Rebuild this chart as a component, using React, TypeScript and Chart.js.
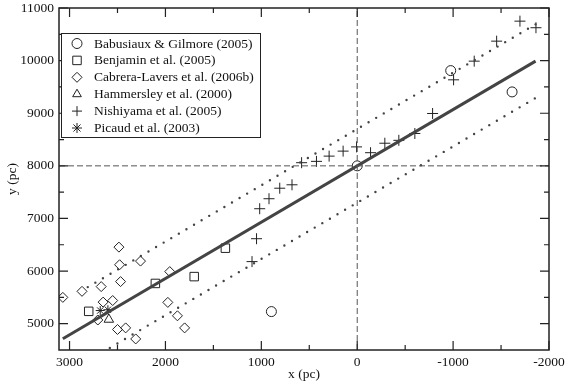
import React, { useEffect, useRef } from 'react';
import { Chart, registerables } from 'chart.js';

Chart.register(...registerables);

// ---- data ----
const babusiauxX = [-975, -1615, 0, 895];
const babusiauxY = [9810, 9405, 8000, 5230];

const benjaminX = [2800, 2105, 1700, 1375];
const benjaminY = [5235, 5765, 5895, 6435];

const cabreraX = [3070, 2870, 2670, 2485, 2478, 2468, 2260, 1955, 2650, 2550, 2705, 2500, 2415, 2310, 1975, 1875, 1800];
const cabreraY = [5500, 5615, 5705, 6455, 6120, 5800, 6190, 5990, 5410, 5440, 5070, 4890, 4920, 4710, 5405, 5150, 4920];

const hammersleyX = [2590];
const hammersleyY = [5080];

const nishiyamaX = [1097, 1050, 1017, 920, 808, 680, 580, 425, 293, 147, 7, -139, -288, -434, -601, -786, -1005, -1220, -1454, -1697, -1864];
const nishiyamaY = [6180, 6615, 7185, 7375, 7575, 7640, 8060, 8085, 8185, 8280, 8360, 8250, 8430, 8485, 8615, 8995, 9635, 9990, 10370, 10750, 10625];

const picaudX = [2680, 2600];
const picaudY = [5250, 5265];

const fitX = [3070, -1860];
const fitY = [4715, 9990];
const upperX = [2810, -1860];
const upperY = [5695, 10690];
const lowerX = [2580, -1860];
const lowerY = [4540, 9290];

const refVX = [0, 0];
const refVY = [4500, 11000];
const refHX = [3110, -2000];
const refHY = [8000, 8000];

const xMajorTicks = [3000, 2000, 1000, 0, -1000, -2000];
const xMinorTicks = [2500, 1500, 500, -500, -1500];
const yMajorTicks = [5000, 6000, 7000, 8000, 9000, 10000, 11000];
const yMinorTicks = [5500, 6500, 7500, 8500, 9500, 10500];

const legendLabels = [
  'Babusiaux & Gilmore (2005)',
  'Benjamin et al. (2005)',
  'Cabrera-Lavers et al. (2006b)',
  'Hammersley et al. (2000)',
  'Nishiyama et al. (2005)',
  'Picaud et al. (2003)',
];
const legendStyles = ['circle', 'rect', 'rectRot', 'triangle', 'cross', 'star'];

const FONT = '"Liberation Serif", "Times New Roman", serif';
const INK = '#222';

function pts(xs: number[], ys: number[]) {
  return xs.map((x, i) => ({ x, y: ys[i] }));
}

function drawSymbol(ctx: CanvasRenderingContext2D, style: string, x: number, y: number, r: number) {
  ctx.beginPath();
  if (style === 'circle') {
    ctx.arc(x, y, r, 0, Math.PI * 2);
  } else if (style === 'rect') {
    const s = r * Math.SQRT1_2 * 1.2;
    ctx.rect(x - s, y - s, 2 * s, 2 * s);
  } else if (style === 'rectRot') {
    ctx.moveTo(x - r, y);
    ctx.lineTo(x, y - r);
    ctx.lineTo(x + r, y);
    ctx.lineTo(x, y + r);
    ctx.closePath();
  } else if (style === 'triangle') {
    ctx.moveTo(x, y - r);
    ctx.lineTo(x + r * Math.sin(Math.PI * 2 / 3), y - r * Math.cos(Math.PI * 2 / 3));
    ctx.lineTo(x + r * Math.sin(Math.PI * 4 / 3), y - r * Math.cos(Math.PI * 4 / 3));
    ctx.closePath();
  } else if (style === 'cross') {
    ctx.moveTo(x - r, y); ctx.lineTo(x + r, y);
    ctx.moveTo(x, y - r); ctx.lineTo(x, y + r);
  } else if (style === 'star') {
    for (let k = 0; k < 4; k++) {
      const a = (k * Math.PI) / 4;
      ctx.moveTo(x - Math.cos(a) * r, y - Math.sin(a) * r);
      ctx.lineTo(x + Math.cos(a) * r, y + Math.sin(a) * r);
    }
  }
  ctx.stroke();
}

const framePlugin = {
  id: 'frameTicks',
  afterDatasetsDraw(chart: any) {
    const { ctx, chartArea: a, scales } = chart;
    const xs = scales.x;
    const ys = scales.y;
    ctx.save();
    ctx.strokeStyle = INK;
    ctx.lineWidth = 1.5;
    ctx.strokeRect(a.left, a.top, a.right - a.left, a.bottom - a.top);
    ctx.lineWidth = 1.2;
    const tick = (vals: number[], len: number) => {
      vals.forEach((v) => {
        const px = xs.getPixelForValue(v);
        ctx.beginPath();
        ctx.moveTo(px, a.bottom); ctx.lineTo(px, a.bottom - len);
        ctx.moveTo(px, a.top); ctx.lineTo(px, a.top + len);
        ctx.stroke();
      });
    };
    const tickY = (vals: number[], len: number) => {
      vals.forEach((v) => {
        const py = ys.getPixelForValue(v);
        ctx.beginPath();
        ctx.moveTo(a.left, py); ctx.lineTo(a.left + len, py);
        ctx.moveTo(a.right, py); ctx.lineTo(a.right - len, py);
        ctx.stroke();
      });
    };
    tick(xMajorTicks, 9);
    tick(xMinorTicks, 5);
    tickY(yMajorTicks, 9);
    tickY(yMinorTicks, 5);

    // legend
    const bx = 61.5, by = 33.5, bw = 199, bh = 104;
    ctx.fillStyle = '#fff';
    ctx.fillRect(bx, by, bw, bh);
    ctx.lineWidth = 1;
    ctx.strokeRect(bx, by, bw, bh);
    ctx.font = `13.5px ${FONT}`;
    ctx.textBaseline = 'middle';
    ctx.textAlign = 'left';
    legendLabels.forEach((lab, i) => {
      const y = 43.5 + i * 16.9;
      ctx.strokeStyle = INK;
      ctx.lineWidth = 1;
      drawSymbol(ctx, legendStyles[i], 77, y, 5);
      ctx.fillStyle = '#111';
      ctx.fillText(lab, 94, y + 0.5);
    });
    ctx.restore();
  },
};

export default function App() {
  const ref = useRef<HTMLCanvasElement>(null);
  useEffect(() => {
    if (!ref.current) return;
    const marker = (label: string, xs: number[], ys: number[], style: string, r: number) => ({
      label,
      data: pts(xs, ys),
      pointStyle: style,
      pointRadius: r,
      pointBorderColor: INK,
      pointBackgroundColor: 'rgba(0,0,0,0)',
      pointBorderWidth: 1,
      showLine: false,
    });
    const line = (label: string, xs: number[], ys: number[], extra: any) => ({
      label,
      data: pts(xs, ys),
      showLine: true,
      pointRadius: 0,
      fill: false,
      ...extra,
    });
    const chart = new Chart(ref.current, {
      type: 'scatter',
      data: {
        datasets: [
          line('refV', refVX, refVY, { borderColor: '#555', borderWidth: 1, borderDash: [6, 3] }),
          line('refH', refHX, refHY, { borderColor: '#555', borderWidth: 1, borderDash: [6, 3] }),
          line('fit', fitX, fitY, { borderColor: '#444', borderWidth: 3 }),
          line('upper', upperX, upperY, { borderColor: '#444', borderWidth: 2.4, borderDash: [0, 8.8], borderCapStyle: 'round' }),
          line('lower', lowerX, lowerY, { borderColor: '#444', borderWidth: 2.4, borderDash: [0, 8.8], borderCapStyle: 'round' }),
          marker(legendLabels[0], babusiauxX, babusiauxY, 'circle', 5),
          marker(legendLabels[1], benjaminX, benjaminY, 'rect', 6),
          marker(legendLabels[2], cabreraX, cabreraY, 'rectRot', 5),
          marker(legendLabels[3], hammersleyX, hammersleyY, 'triangle', 5.5),
          marker(legendLabels[4], nishiyamaX, nishiyamaY, 'cross', 5.5),
          marker(legendLabels[5], picaudX, picaudY, 'star', 4.5),
        ] as any,
      },
      options: {
        animation: false,
        responsive: false,
        devicePixelRatio: 1,
        layout: { padding: { top: 0, right: 21, left: 0, bottom: 0 } },
        plugins: { legend: { display: false }, tooltip: { enabled: false } },
        scales: {
          x: {
            type: 'linear',
            reverse: true,
            min: -2000,
            max: 3110,
            afterBuildTicks: (s: any) => { s.ticks = xMajorTicks.map((v) => ({ value: v })); },
            afterFit: (s: any) => { s.height = 38; s.paddingLeft = 0; s.paddingRight = 21; s.paddingTop = 0; s.paddingBottom = 0; },
            grid: { display: false, drawTicks: false },
            border: { display: false },
            ticks: { padding: 4, color: '#111', font: { family: FONT, size: 13.5 }, maxRotation: 0, autoSkip: false, callback: (v: any) => String(v) },
            title: { display: true, text: 'x (pc)', color: '#111', font: { family: FONT, size: 13.5 }, padding: { top: 0, bottom: 5 } },
          },
          y: {
            type: 'linear',
            min: 4500,
            max: 11000,
            afterBuildTicks: (s: any) => { s.ticks = yMajorTicks.map((v) => ({ value: v })); },
            afterFit: (s: any) => { s.width = 59; s.paddingTop = 8; s.paddingBottom = 0; s.paddingLeft = 0; s.paddingRight = 0; },
            grid: { display: false, drawTicks: false },
            border: { display: false },
            ticks: { padding: 5, color: '#111', font: { family: FONT, size: 13.5 }, autoSkip: false, callback: (v: any) => String(v) },
            title: { display: true, text: 'y (pc)', color: '#111', font: { family: FONT, size: 13.5 }, padding: { top: 4, bottom: 0 } },
          },
        },
      } as any,
      plugins: [framePlugin],
    });
    return () => chart.destroy();
  }, []);
  return (
    <div style={{ position: 'fixed', top: 0, left: 0, width: 570, height: 388, background: '#fff' }}>
      <canvas ref={ref} width={570} height={388} style={{ display: 'block' }} />
    </div>
  );
}
